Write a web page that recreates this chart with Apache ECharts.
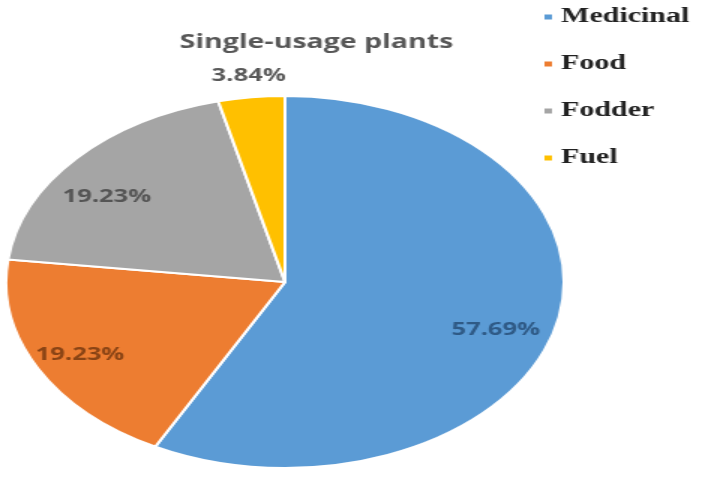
<!DOCTYPE html>
<html>
<head>
<meta charset="utf-8">
<script src="https://cdn.jsdelivr.net/npm/echarts@6/dist/echarts.min.js"></script>
<style>
  html, body { margin: 0; padding: 0; background: #fff; overflow: hidden; }
  /* the reference picture is stretched sideways, so the chart is drawn narrow and widened */
  #chart { width: 468px; height: 489px; transform: scaleX(1.5); transform-origin: 0 0; }
</style>
</head>
<body>
<div id="chart"></div>
<script>
const categories = ['Medicinal', 'Food', 'Fodder', 'Fuel'];
const shares = [57.69, 19.23, 19.23, 3.84];
const sliceColors = ['#5b9bd5', '#ed7d31', '#a5a5a5', '#ffc000'];
const labelColors = ['#2f5a86', '#8a4415', '#555555', '#595959'];
// small per-label nudges (unscaled px) to sit the labels where the reference has them
const labelNudge = [[-7, 12], [-2, 3], [-5, 16], [30, -3]];

const chart = echarts.init(document.getElementById('chart'), null, { renderer: 'canvas' });

const labelFont = { fontFamily: 'Open Sans', fontWeight: 'bold', fontSize: 17 };
const pct = (p) => p.value.toFixed(2) + '%';
const nudge = (p) => ({ dx: labelNudge[p.dataIndex][0], dy: labelNudge[p.dataIndex][1] });

const pieData = categories.map((name, i) => {
  const item = { name, value: shares[i], itemStyle: { color: sliceColors[i] } };
  if (i === 3) {
    item.label = { show: true, position: 'outside', formatter: pct, color: labelColors[i], ...labelFont };
    item.labelLine = { show: false, length: 18, length2: 0 };
  }
  return item;
});

const labelData = categories.map((name, i) => ({
  name,
  value: shares[i],
  label: { show: i !== 3, color: labelColors[i] },
}));

chart.setOption({
  animation: false,
  title: {
    text: 'Single-usage plants',
    left: 206,
    top: 28,
    textAlign: 'center',
    textStyle: { fontFamily: 'Open Sans', fontWeight: 'bold', fontSize: 19, color: '#575757' },
  },
  legend: {
    orient: 'vertical',
    left: 361,
    top: 5,
    padding: 0,
    itemWidth: 7,
    itemHeight: 7,
    itemGap: 23,
    icon: 'rect',
    data: categories,
    textStyle: { fontFamily: 'Liberation Serif', fontWeight: 'bold', fontSize: 20, lineHeight: 24, color: '#222' },
  },
  series: [
    {
      type: 'pie',
      center: [190, 282],
      radius: [0, 186],
      startAngle: 90,
      clockwise: true,
      silent: true,
      itemStyle: { borderColor: '#fff', borderWidth: 2 },
      label: { show: false },
      labelLine: { show: false },
      labelLayout: nudge,
      data: pieData,
    },
    {
      // transparent twin pie, only carries the inside labels at ~80% radius
      type: 'pie',
      center: [190, 282],
      radius: [0, 298],
      startAngle: 90,
      clockwise: true,
      silent: true,
      itemStyle: { color: 'transparent' },
      label: { position: 'inside', formatter: pct, ...labelFont },
      labelLine: { show: false },
      labelLayout: nudge,
      data: labelData,
    },
  ],
});
</script>
</body>
</html>
